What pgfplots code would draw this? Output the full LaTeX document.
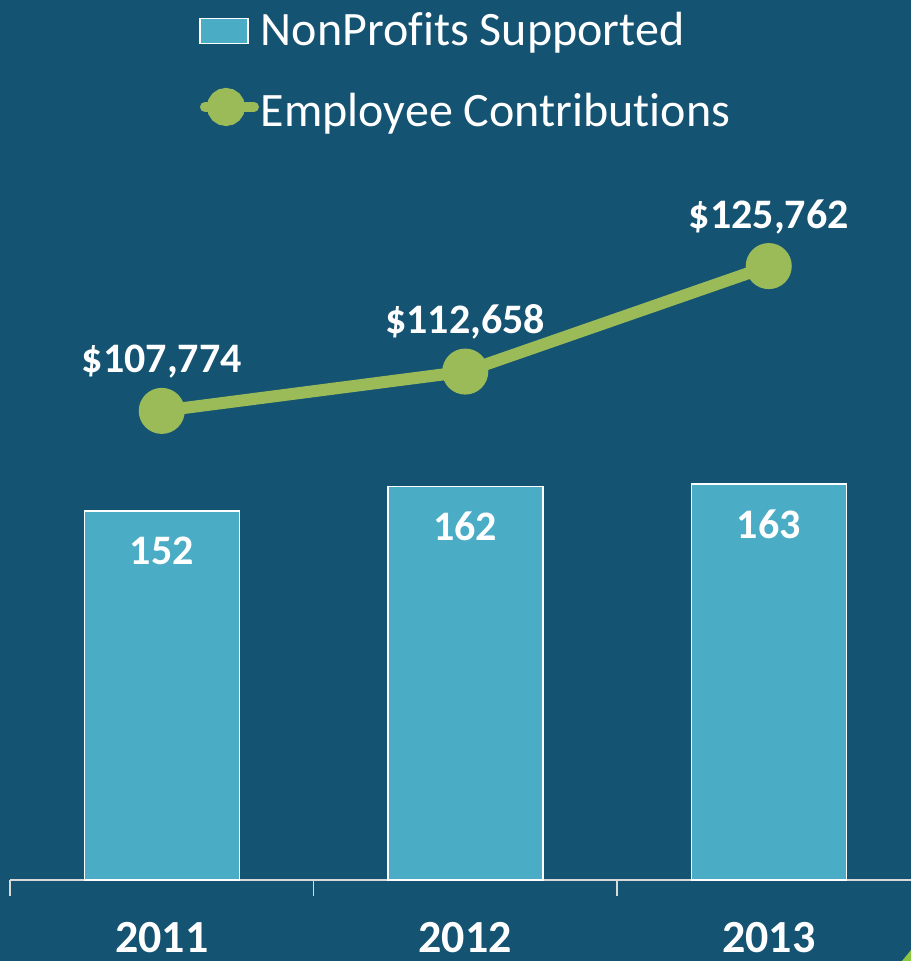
\documentclass[border=0pt]{standalone}
\usepackage{pgfplots}
\pgfplotsset{compat=1.18}
\usepackage{fontspec}
\setmainfont[Ligatures=NoCommon]{Carlito}
\definecolor{bg}{RGB}{21,83,114}
\definecolor{barblue}{RGB}{75,172,198}
\definecolor{lgreen}{RGB}{155,187,89}
\definecolor{axgray}{RGB}{217,217,217}
\definecolor{cgreen}{RGB}{141,198,63}
\begin{document}
\begin{tikzpicture}
\useasboundingbox (0,0) rectangle (911pt,961pt);
\fill[bg] (0,0) rectangle (911pt,961pt);
\fill[cgreen] (902pt,0pt) -- (911pt,0pt) -- (911pt,11pt) -- cycle;
\pgfplotsset{base/.style={scale only axis, width=901pt, height=710pt,
  at={(10pt,81pt)}, anchor=south west, xmin=-0.5, xmax=2.4687, clip=false}}
\begin{axis}[base, ybar, bar width=155pt, ymin=0, ymax=292.4,
  axis x line*=bottom, axis y line=none,
  xtick={0,1,2}, xticklabels={2011,2012,2013},
  minor xtick={-0.5,0.5,1.5},
  major tick length=0pt, minor tick length=16pt, tick align=outside,
  x axis line style={axgray, line width=1.5pt, -},
  minor tick style={axgray, line width=1.5pt},
  xticklabel style={font=\fontsize{46}{46}\selectfont\bfseries, text=white, inner sep=0pt, anchor=base, yshift=-72pt},
  point meta=explicit symbolic,
  nodes near coords,
  nodes near coords style={font=\fontsize{42}{42}\selectfont\bfseries, text=white, anchor=base, yshift=-54pt}]
\addplot[fill=barblue, draw=white, line width=1.5pt] coordinates {(0,152) [152] (1,162) [162] (2,163) [163]};
\end{axis}
\begin{axis}[base, ymin=49500, ymax=137700, axis lines=none,
  legend cell align=left,
  legend style={draw=none, fill=none, text=white, font=\fontsize{48}{48}\selectfont,
    at={(0.2098,1.2254)}, anchor=north west, inner sep=0pt, row sep=39pt},
  point meta=explicit symbolic]
\addlegendimage{legend image code/.code={\draw[fill=barblue, draw=white, line width=1.5pt] (0pt,-14pt) rectangle (48pt,11pt);}}
\addlegendentry{NonProfits Supported}
\addplot[lgreen, line width=12pt, mark=*, mark size=17pt, mark options={fill=lgreen, draw=none},
  nodes near coords, nodes near coords style={font=\fontsize{42}{42}\selectfont\bfseries, text=white, anchor=base, yshift=38pt},
  legend image code/.code={\draw[lgreen, line width=10pt, line cap=round] (5pt,4pt) -- (54pt,4pt); \fill[lgreen] (26pt,4pt) circle (13pt);}]
  coordinates {(0,107774) [\$107,774] (1,112658) [\$112,658] (2,125762) [\$125,762]};
\addlegendentry{Employee Contributions}
\end{axis}
\end{tikzpicture}
\end{document}
